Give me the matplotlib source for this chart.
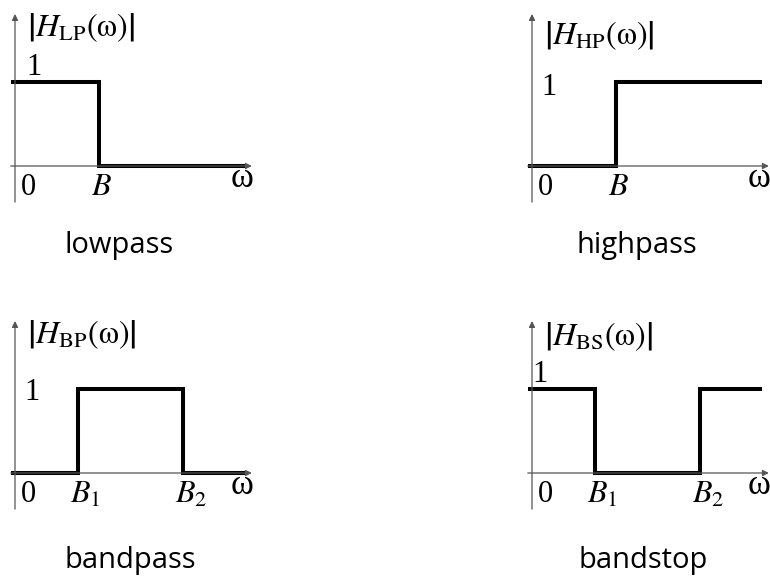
import numpy as np
import matplotlib.pyplot as plt

plt.rcParams['mathtext.fontset'] = 'stix'
plt.rcParams['font.family'] = 'Liberation Serif'

# ideal filter magnitude responses, frequency in units of the cutoff B
B = 1.0
B1 = 0.75
B2 = 2.0
w_lo = -0.05
w_hi = 2.74

lp_w = [w_lo, B, B, w_hi]
lp_h = [1, 1, 0, 0]
hp_w = [w_lo, B, B, w_hi]
hp_h = [0, 0, 1, 1]
bp_w = [w_lo, B1, B1, B2, B2, w_hi]
bp_h = [0, 0, 1, 1, 0, 0]
bs_w = [w_lo, B1, B1, B2, B2, w_hi]
bs_h = [1, 1, 0, 0, 1, 1]

names = ['LP', 'HP', 'BP', 'BS']
captions = ['lowpass', 'highpass', 'bandpass', 'bandstop']
ticks = [[('0', 0), ('B', B)],
         [('0', 0), ('B', B)],
         [('0', 0), ('B_1', B1), ('B_2', B2)],
         [('0', 0), ('B_1', B1), ('B_2', B2)]]

W, H = 770, 576
S = 84.0  # pixels per unit
fig = plt.figure(figsize=(W / 100, H / 100), dpi=100)

# panel origins in pixels (x right, y down)
origins = [(15, 166), (532, 166), (15, 473), (532, 473)]
caption_pos = [(119, 253), (637, 253), (130, 568), (643, 568)]
one_pos = [(0.13, 1.08), (0.11, 0.85), (0.11, 0.87), (0.0, 1.08)]
title_y = [1.54, 1.45, 1.55, 1.52]
curves = [(lp_w, lp_h), (hp_w, hp_h), (bp_w, bp_h), (bs_w, bs_h)]

x0, x1, y0, y1 = -0.3, 3.0, -0.6, 2.0
for k, (ox, oy) in enumerate(origins):
    left = ox + x0 * S
    bottom = oy - y0 * S
    ax = fig.add_axes([left / W, 1 - bottom / H, (x1 - x0) * S / W, (y1 - y0) * S / H])
    ax.set_xlim(x0, x1)
    ax.set_ylim(y0, y1)
    ax.axis('off')

    arrow = dict(arrowstyle='-|>', lw=0.9, color='#555555', mutation_scale=9,
                 shrinkA=0, shrinkB=0)
    ax.annotate('', xy=(0, 1.81), xytext=(0, -0.43), arrowprops=arrow)
    ax.annotate('', xy=(2.82, 0), xytext=(-0.05, 0), arrowprops=arrow)

    w, h = curves[k]
    ax.plot(w, h, color='black', lw=2.9, solid_joinstyle='miter', solid_capstyle='butt')

    ax.text(0.14, title_y[k], r'$\left|H_{\mathrm{%s}}(\mathrm{ω})\right|$' % names[k],
            fontsize=23, va='baseline', ha='left')
    ax.text(one_pos[k][0], one_pos[k][1], '1', fontsize=22, va='baseline', ha='left')
    for lab, pos in ticks[k]:
        if lab == '0':
            ax.text(0.07, -0.35, '0', fontsize=22, va='baseline', ha='left')
        else:
            ax.text(pos - 0.1, -0.35, '$%s$' % lab, fontsize=23, va='baseline', ha='left')
    ax.text(2.57, -0.25, 'ω', fontsize=25, va='baseline', ha='left')

for (cx, cy), cap in zip(caption_pos, captions):
    fig.text(cx / W, 1 - cy / H, cap, fontsize=21, family='Open Sans',
             ha='center', va='baseline')

fig.savefig('out.png', dpi=100)
